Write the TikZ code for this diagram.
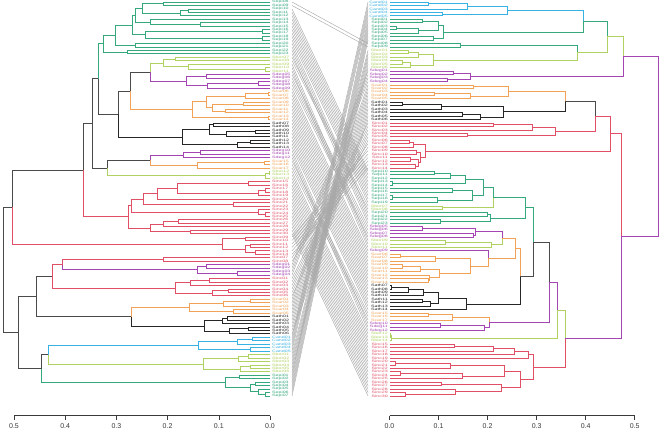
\documentclass[tikz,border=0pt]{standalone}
\usepackage{fontspec}
\setmainfont{Liberation Sans}
\usepackage{graphicx}
\definecolor{gn}{HTML}{35A87C}
\definecolor{yg}{HTML}{B0D262}
\definecolor{pu}{HTML}{A545B3}
\definecolor{or}{HTML}{F2A256}
\definecolor{bk}{HTML}{262626}
\definecolor{rd}{HTML}{E04F66}
\definecolor{cy}{HTML}{38B2E2}
\definecolor{tp}{HTML}{4A4A4A}
\definecolor{lk}{HTML}{A9A9A9}
\definecolor{axc}{HTML}{3A3A3A}
\tikzset{
  br/.style={line width=0.7pt},
  lbl/.style={inner sep=0pt,font=\fontsize{3.3}{3.5}\selectfont},
  lnk/.style={draw=lk,line width=0.45pt},
  ax/.style={draw=axc,line width=0.55pt},
  tk/.style={inner sep=0pt,font=\fontsize{7}{8}\selectfont,text=axc}
}
% leaves and merges of a dendrogram, x in px, y from the leaf count
\newcount\lfn
\def\lf#1#2{%
  \pgfmathsetmacro\yy{2+\the\lfn*3.456}%
  \global\advance\lfn by 1
  \node[lbl,text=#1,anchor=\lanc] (\sd#2) at (\lx,\yy) {\scalebox{1.6}[1]{#2}};
  \coordinate (\sd-#2) at (\cx,\yy);
  \xdef\rety{\yy}\xdef\retx{\xl}\xdef\retc{#1}}
\def\nd#1#2#3#4{\begingroup
  #3\let\ya\rety\let\xa\retx\let\ca\retc
  #4\let\yb\rety\let\xb\retx\let\cb\retc
  \pgfmathsetmacro\ym{(\ya+\yb)/2}%
  \draw[br,color=\ca] (\xa,\ya) -- (#1,\ya) -- (#1,\ym);
  \draw[br,color=\cb] (\xb,\yb) -- (#1,\yb) -- (#1,\ym);
  \xdef\rety{\ym}\xdef\retx{#1}\xdef\retc{#2}\endgroup}
\def\setL{\global\lfn=0 \def\sd{L}\def\xl{270}\def\lx{272}\def\lanc{west}\def\cx{292}}
\def\setR{\global\lfn=0 \def\sd{R}\def\xl{390}\def\lx{388}\def\lanc{east}\def\cx{368}}
\def\lG#1{\lf{gn}{Sepi#1}}
\def\lY#1{\lf{yg}{Sbor#1}}
\def\lP#1{\lf{pu}{Sdeg#1}}
\def\lO#1{\lf{or}{Scar#1}}
\def\lK#1{\lf{bk}{Sath#1}}
\def\lR#1{\lf{rd}{Sinc#1}}
\def\lC#1{\lf{cy}{Cand#1}}
\begin{document}
\begin{tikzpicture}[x=1pt,y=-1pt]
\fill[white] (0,0) rectangle (660,429);
% left tree
\setL
\nd{3}{tp}
{% upper half
 \nd{12}{tp}
 {\nd{83}{tp}
  {\nd{92}{tp}
   {\nd{98}{tp}
    {\nd{103}{gn}
     {\nd{115}{gn}
      {\nd{132}{gn}
       {\nd{135}{gn}
        {\nd{142}{gn}
         {\nd{163}{gn}{\lG{08}}{\lG{09}}}
         {\nd{180}{gn}{\nd{188}{gn}{\lG{10}}{\lG{11}}}{\lG{12}}}}
        {\nd{150}{gn}{\lG{13}}{\nd{200}{gn}{\lG{14}}{\lG{15}}}}}
       {\nd{145}{gn}{\nd{262}{gn}{\lG{16}}{\lG{17}}}{\nd{262}{gn}{\lG{18}}{\lG{19}}}}}
      {\nd{135}{gn}{\lG{20}}{\lG{21}}}}
     {\nd{127}{gn}{\lG{22}}{\lG{23}}}}
    {\nd{118}{tp}
     {\nd{130}{tp}
      {\nd{150}{tp}
       {\nd{163}{yg}{\nd{175}{yg}{\lY{07}}{\lY{08}}}{\nd{188}{yg}{\lY{09}}{\nd{265}{yg}{\lY{10}}{\lY{11}}}}}
       {\nd{186}{pu}{\nd{206}{pu}{\lP{05}}{\lP{06}}}{\nd{207}{pu}{\nd{258}{pu}{\lP{07}}{\lP{08}}}{\lP{09}}}}}
      {\nd{192}{or}
       {\nd{206}{or}
        {\nd{245}{or}{\nd{268}{or}{\lO{06}}{\lO{07}}}{\lO{08}}}
        {\nd{212}{or}{\nd{243}{or}{\lO{09}}{\lO{10}}}{\nd{225}{or}{\lO{11}}{\lO{12}}}}}
       {\nd{268}{or}{\lO{13}}{\lO{14}}}}}
     {\nd{182}{bk}
      {\nd{209}{bk}{\nd{213}{bk}{\lK{07}}{\lK{08}}}{\nd{226}{bk}{\nd{255}{bk}{\lK{09}}{\lK{10}}}{\lK{11}}}}
      {\nd{237}{bk}{\nd{250}{bk}{\lK{12}}{\lK{13}}}{\lK{14}}}}}}
   {\nd{107}{tp}
    {\nd{150}{tp}
     {\nd{183}{pu}{\nd{200}{pu}{\lP{10}}{\lP{11}}}{\lP{12}}}
     {\nd{197}{or}{\nd{264}{or}{\lO{15}}{\lO{16}}}{\lO{17}}}}
    {\nd{265}{yg}{\nd{269}{yg}{\lY{12}}{\lY{13}}}{\lY{14}}}}}
  {\nd{128}{rd}
   {\nd{131}{rd}
    {\nd{143}{rd}
     {\nd{157}{rd}
      {\nd{177}{rd}{\nd{248}{rd}{\lR{15}}{\lR{16}}}{\nd{258}{rd}{\nd{265}{rd}{\lR{17}}{\lR{18}}}{\lR{19}}}}
      {\lR{20}}}
     {\nd{233}{rd}{\lR{21}}{\lR{22}}}}
    {\nd{258}{rd}{\lR{23}}{\nd{265}{rd}{\lR{24}}{\lR{25}}}}}
   {\nd{150}{rd}{\nd{163}{rd}{\nd{178}{rd}{\lR{26}}{\lR{27}}}{\lR{28}}}{\nd{190}{rd}{\lR{29}}{\lR{30}}}}}}
 {\nd{222}{rd}{\nd{245}{rd}{\lR{09}}{\lR{10}}}{\nd{245}{rd}{\nd{250}{rd}{\lR{11}}{\lR{12}}}{\nd{255}{rd}{\lR{13}}{\lR{14}}}}}}
{% lower half
 \nd{18}{tp}
 {\nd{36}{tp}
  {\nd{52}{tp}
   {\nd{62}{rd}{\nd{163}{rd}{\lR{07}}{\lR{08}}}{\nd{197}{pu}{\nd{206}{pu}{\lP{01}}{\lP{02}}}{\nd{237}{pu}{\lP{03}}{\lP{04}}}}}
   {\nd{175}{rd}{\nd{190}{rd}{\nd{209}{rd}{\lR{01}}{\lR{02}}}{\lR{03}}}{\nd{212}{rd}{\nd{228}{rd}{\lR{04}}{\lR{05}}}{\lR{06}}}}}
  {\nd{131}{tp}
   {\nd{189}{or}{\nd{223}{or}{\nd{250}{or}{\lO{01}}{\lO{02}}}{\lO{03}}}{\nd{233}{or}{\lO{04}}{\lO{05}}}}
   {\nd{204}{bk}{\nd{222}{bk}{\nd{227}{bk}{\lK{01}}{\lK{02}}}{\lK{03}}}{\nd{229}{bk}{\nd{248}{bk}{\lK{04}}{\lK{05}}}{\lK{06}}}}}}
 {\nd{41}{tp}
  {\nd{48}{tp}
   {\nd{198}{cy}{\nd{237}{cy}{\nd{252}{cy}{\lC{01}}{\lC{02}}}{\lC{03}}}{\nd{250}{cy}{\lC{04}}{\lC{05}}}}
   {\nd{203}{yg}{\nd{238}{yg}{\nd{248}{yg}{\lY{01}}{\lY{02}}}{\lY{03}}}{\nd{240}{yg}{\nd{250}{yg}{\lY{04}}{\lY{05}}}{\lY{06}}}}}
  {\nd{225}{gn}{\nd{239}{gn}{\lG{01}}{\lG{02}}}{\nd{250}{gn}{\nd{255}{gn}{\lG{03}}{\lG{04}}}{\nd{258}{gn}{\lG{05}}{\nd{265}{gn}{\lG{06}}{\lG{07}}}}}}}}
% right tree
\setR
\nd{658}{pu}
{\nd{623}{pu}
 {\nd{607}{yg}
  {\nd{583}{gn}
   {\nd{507}{cy}{\nd{467}{cy}{\nd{428}{cy}{\lC{01}}{\lC{02}}}{\lC{03}}}{\nd{442}{cy}{\lC{04}}{\lC{05}}}}
   {\nd{443}{gn}{\nd{438}{gn}{\nd{422}{gn}{\lG{01}}{\lG{02}}}{\nd{418}{gn}{\nd{396}{gn}{\lG{03}}{\lG{04}}}{\lG{05}}}}{\nd{433}{gn}{\lG{06}}{\lG{07}}}}}
  {\nd{577}{yg}
   {\nd{460}{gn}{\lG{08}}{\lG{09}}}
   {\nd{433}{yg}{\nd{418}{yg}{\nd{408}{yg}{\lY{01}}{\lY{02}}}{\lY{03}}}{\nd{410}{yg}{\nd{402}{yg}{\lY{04}}{\lY{05}}}{\lY{06}}}}}}
 {\nd{470}{pu}{\nd{453}{pu}{\lP{01}}{\lP{02}}}{\nd{447}{pu}{\lP{03}}{\lP{04}}}}}
{\nd{621}{pu}
 {\nd{610}{rd}
  {\nd{595}{rd}
   {\nd{565}{tp}
    {\nd{508}{or}{\nd{473}{or}{\lO{01}}{\lO{02}}}{\nd{470}{or}{\nd{434}{or}{\lO{03}}{\lO{04}}}{\lO{05}}}}
    {\nd{503}{bk}{\nd{441}{bk}{\nd{402}{bk}{\lK{01}}{\lK{02}}}{\lK{03}}}{\nd{480}{bk}{\nd{462}{bk}{\lK{04}}{\lK{05}}}{\lK{06}}}}}
   {\nd{555}{rd}{\nd{532}{rd}{\nd{493}{rd}{\lR{01}}{\lR{02}}}{\lR{03}}}{\nd{467}{rd}{\lR{04}}{\lR{05}}}}}
  {\nd{425}{rd}{\nd{413}{rd}{\nd{409}{rd}{\lR{06}}{\lR{07}}}{\lR{08}}}{\nd{420}{rd}{\nd{416}{rd}{\lR{09}}{\lR{10}}}{\nd{418}{rd}{\nd{410}{rd}{\lR{11}}{\lR{12}}}{\nd{415}{rd}{\lR{13}}{\lR{14}}}}}}}
 {\nd{565}{pu}
  {\nd{557}{yg}
   {\nd{549}{pu}
    {\nd{533}{tp}
     {\nd{525}{gn}
      {\nd{493}{gn}
       {\nd{483}{gn}{\nd{465}{gn}{\nd{450}{gn}{\nd{434}{gn}{\lG{10}}{\lG{11}}}{\lG{12}}}{\nd{392}{gn}{\lG{13}}{\lG{14}}}}{\nd{472}{gn}{\nd{452}{gn}{\lG{15}}{\lG{16}}}{\nd{437}{gn}{\nd{392}{gn}{\lG{17}}{\lG{18}}}{\lG{19}}}}}
       {\nd{442}{yg}{\lY{07}}{\lY{08}}}}
      {\nd{490}{gn}{\nd{487}{gn}{\lG{20}}{\lG{21}}}{\nd{440}{gn}{\lG{22}}{\lG{23}}}}}
     {\nd{520}{tp}
      {\nd{515}{or}
       {\nd{502}{or}{\nd{475}{pu}{\nd{422}{pu}{\lP{05}}{\lP{06}}}{\nd{473}{pu}{\lP{07}}{\lP{08}}}}{\nd{491}{yg}{\nd{445}{yg}{\lY{09}}{\lY{10}}}{\lY{11}}}}
       {\nd{488}{or}{\lP{09}}{\nd{470}{or}{\nd{435}{or}{\nd{400}{or}{\lO{06}}{\lO{07}}}{\lO{08}}}{\nd{439}{or}{\nd{420}{or}{\nd{402}{or}{\lO{09}}{\lO{10}}}{\lO{11}}}{\nd{429}{or}{\lO{12}}{\nd{428}{or}{\lO{13}}{\lO{14}}}}}}}}
      {\nd{466}{bk}{\nd{438}{bk}{\nd{423}{bk}{\nd{408}{bk}{\nd{391}{bk}{\lK{07}}{\lK{08}}}{\lK{09}}}{\lK{10}}}{\nd{430}{bk}{\nd{422}{bk}{\lK{11}}{\lK{12}}}{\lK{13}}}}{\lK{14}}}}}
    {\nd{489}{pu}{\nd{452}{or}{\nd{428}{or}{\lO{15}}{\lO{16}}}{\lO{17}}}{\nd{484}{pu}{\nd{440}{pu}{\lP{10}}{\lP{11}}}{\lP{12}}}}}
   {\nd{391}{yg}{\nd{390.6}{yg}{\lY{12}}{\lY{13}}}{\lY{14}}}}
  {\nd{533}{rd}{\nd{528}{rd}{\nd{514}{rd}{\nd{493}{rd}{\nd{454}{rd}{\lR{15}}{\lR{16}}}{\lR{17}}}{\lR{18}}}{\lR{19}}}{\nd{520}{rd}{\nd{504}{rd}{\nd{450}{rd}{\nd{395}{rd}{\lR{20}}{\lR{21}}}{\lR{22}}}{\nd{462}{rd}{\nd{400}{rd}{\lR{23}}{\lR{24}}}{\lR{25}}}}{\nd{501}{rd}{\nd{441}{rd}{\lR{26}}{\lR{27}}}{\nd{455}{rd}{\lR{28}}{\nd{405}{rd}{\lR{29}}{\lR{30}}}}}}}}}
% links between matching leaves
\foreach \p/\n in {Cand/5,Sepi/23,Sbor/14,Sdeg/12,Scar/17,Sath/14,Sinc/30}
  \foreach \i in {1,...,\n} {
    \edef\nm{\p\ifnum\i<10 0\fi\i}
    \draw[lnk] (L-\nm) -- (R-\nm);
  }
% axes
\draw[ax] (14,415.5) -- (270,415.5);
\foreach \v [count=\k] in {0.5,0.4,0.3,0.2,0.1,0.0} {
  \pgfmathsetmacro\tx{270-\v*512}
  \draw[ax] (\tx,415.5) -- (\tx,419.5);
  \node[tk] (lt\k) at (\tx,426.5) {\v};
}
\draw[ax] (389.5,415.5) -- (634.75,415.5);
\foreach \v [count=\k] in {0.0,0.1,0.2,0.3,0.4,0.5} {
  \pgfmathsetmacro\tx{389.5+\v*490.5}
  \draw[ax] (\tx,415.5) -- (\tx,419.5);
  \node[tk] (rt\k) at (\tx,426.5) {\v};
}
\end{tikzpicture}
\end{document}
